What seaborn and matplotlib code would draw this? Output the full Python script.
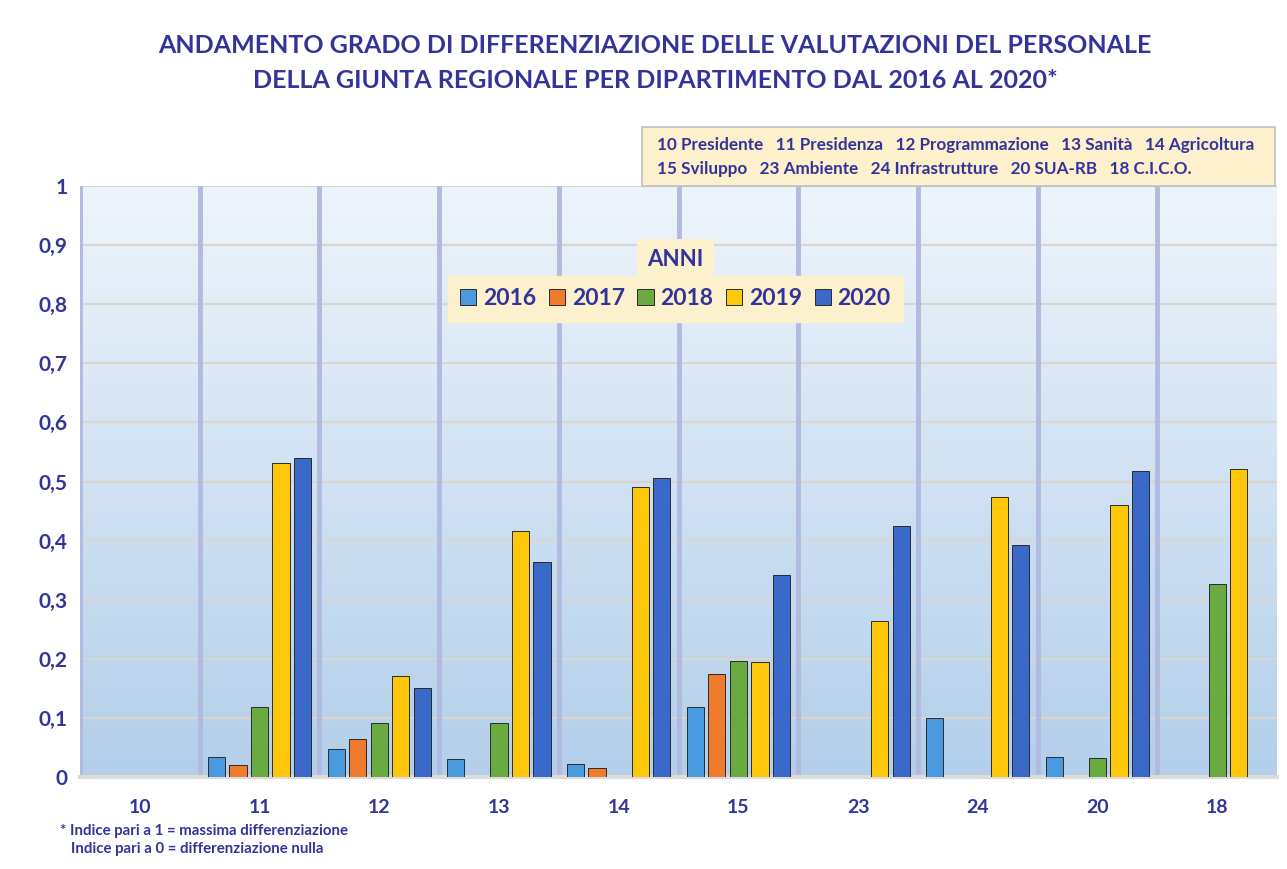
import numpy as np
import pandas as pd
import matplotlib
matplotlib.use("Agg")
import matplotlib.pyplot as plt
import seaborn as sns
from matplotlib.patches import Rectangle, Patch

departments = ["10", "11", "12", "13", "14", "15", "23", "24", "20", "18"]
years = ["2016", "2017", "2018", "2019", "2020"]
v2016 = [0.0, 0.034, 0.047, 0.030, 0.022, 0.118, 0.0, 0.099, 0.033, 0.0]
v2017 = [0.0, 0.020, 0.065, 0.0, 0.015, 0.174, 0.0, 0.0, 0.0, 0.0]
v2018 = [0.0, 0.118, 0.091, 0.092, 0.0, 0.196, 0.0, 0.0, 0.032, 0.327]
v2019 = [0.0, 0.532, 0.171, 0.416, 0.491, 0.194, 0.264, 0.474, 0.461, 0.521]
v2020 = [0.0, 0.539, 0.150, 0.363, 0.506, 0.342, 0.425, 0.393, 0.518, 0.0]
colors = ["#4a9ae0", "#f07b2c", "#6aab41", "#ffc70a", "#3b69c9"]

title = ("ANDAMENTO GRADO DI DIFFERENZIAZIONE DELLE VALUTAZIONI DEL PERSONALE\n"
         "DELLA GIUNTA REGIONALE PER DIPARTIMENTO DAL 2016 AL 2020*")
dept_legend = ("10 Presidente   11 Presidenza   12 Programmazione   13 Sanità   14 Agricoltura\n"
               "15 Sviluppo   23 Ambiente   24 Infrastrutture   20 SUA-RB   18 C.I.C.O.")
footnote = "* Indice pari a 1 = massima differenziazione\n   Indice pari a 0 = differenziazione nulla"

rows = []
for y, vals in zip(years, [v2016, v2017, v2018, v2019, v2020]):
    for d, v in zip(departments, vals):
        rows.append({"Dipartimento": d, "Anno": y, "Valore": v})
df = pd.DataFrame(rows)

sns.set_theme(style="white")
plt.rcParams["font.family"] = ["Lato", "DejaVu Sans"]
TXT = "#33349a"

fig = plt.figure(figsize=(12.87, 8.69), dpi=100)
fig.patch.set_facecolor("white")
ax = fig.add_axes([80 / 1287, 1 - 777 / 869, 1197 / 1287, 591 / 869])

# gradient background
grad = np.linspace(0, 1, 256).reshape(-1, 1)
cmap = matplotlib.colors.LinearSegmentedColormap.from_list("bg", ["#b3cfea", "#eef4fb"])
ax.imshow(grad, aspect="auto", cmap=cmap, origin="lower",
          extent=[-0.5, 9.5, 0, 1], zorder=0)

sns.barplot(data=df, x="Dipartimento", y="Valore", hue="Anno", palette=colors,
            order=departments, hue_order=years, width=0.9, gap=0.2, saturation=1,
            edgecolor="#2a2a2a", linewidth=0.7, ax=ax, zorder=3, legend=False)

for p in list(ax.patches):
    if isinstance(p, Rectangle) and p.get_height() == 0:
        p.set_visible(False)

ax.set_xlim(-0.5, 9.5)
ax.set_ylim(0, 1)
ax.set_yticks(np.arange(0, 1.01, 0.1))
ax.set_yticklabels(["0"] + [f"{v:.1f}".replace(".", ",") for v in np.arange(0.1, 0.95, 0.1)] + ["1"])
for yv in np.arange(0.1, 1.01, 0.1):
    ax.axhline(yv, color="#ddd5cc", lw=1.5, zorder=1)
for xv in np.arange(-0.5, 9.5, 1):
    ax.axvline(xv, color="#b2bae0", lw=3.5, zorder=1)

ax.tick_params(axis="y", labelsize=15, colors=TXT, length=0, pad=9)
ax.tick_params(axis="x", labelsize=14, colors=TXT, length=0, pad=16)
for lab in ax.get_yticklabels() + ax.get_xticklabels():
    lab.set_fontweight("bold")
ax.set_xlabel("")
ax.set_ylabel("")
for s in ["top", "right", "left"]:
    ax.spines[s].set_visible(False)
ax.spines["bottom"].set_color("#dcdcdc")
ax.spines["bottom"].set_linewidth(3)

handles = [Patch(facecolor=c, edgecolor="#2a2a2a", linewidth=0.7) for c in colors]
leg = ax.legend(handles, years, loc="center", bbox_to_anchor=(0.4975, 0.809), ncol=5,
                frameon=True, fontsize=16.5, handlelength=0.7, handleheight=0.7,
                handletextpad=0.3, columnspacing=0.55, borderpad=0.55, borderaxespad=0,
                fancybox=False)
leg.get_frame().set_facecolor("#fdf0cc")
leg.get_frame().set_edgecolor("#fdf0cc")
leg.get_frame().set_alpha(1)
leg.set_zorder(5)
for t in leg.get_texts():
    t.set_color(TXT)
    t.set_fontweight("bold")

ax.text(0.4975, 0.876, "ANNI", transform=ax.transAxes, ha="center", va="center",
        fontsize=16, fontweight="bold", color=TXT, zorder=6,
        bbox=dict(boxstyle="square,pad=0.45", facecolor="#fdf0cc", edgecolor="none"))

fig.text(0.509, 1 - 63 / 869, title, ha="center", va="center", fontsize=18,
         fontweight="bold", color=TXT, linespacing=1.6)

fig.text(657 / 1287, 1 - 157 / 869, dept_legend, ha="left", va="center",
         fontsize=12.3, fontweight="bold", color=TXT, linespacing=1.55, zorder=5)
fig.patches.append(Rectangle((642 / 1287, 1 - 186 / 869), 633 / 1287, 59 / 869,
                             transform=fig.transFigure, facecolor="#fdf0cc",
                             edgecolor="#bfbfbf", lw=1.2, zorder=0))

fig.text(60 / 1287, 1 - 840 / 869, footnote, ha="left", va="center",
         fontsize=10.8, fontweight="bold", color=TXT, linespacing=1.45)

fig.savefig("out.png", dpi=100)
